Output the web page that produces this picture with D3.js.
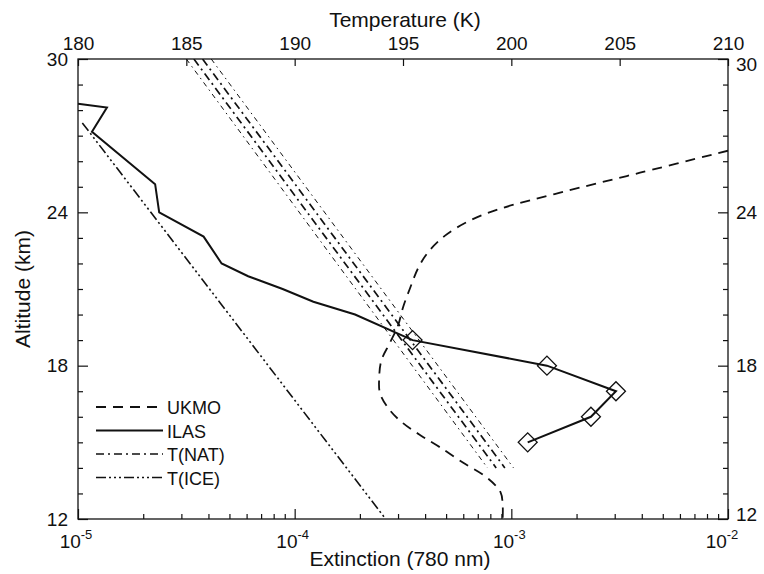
<!DOCTYPE html>
<html>
<head>
<meta charset="utf-8">
<script src="https://cdn.jsdelivr.net/npm/d3@7"></script>
<style>
  body { margin: 0; background: #fff; }
  svg { display: block; }
  text { font-family: "Liberation Sans", Arial, Helvetica, sans-serif; fill: #111; }
</style>
</head>
<body>
<svg id="chart" width="764" height="574"></svg>
<script>
// ILAS aerosol extinction profile (altitude km, extinction at 780 nm)
const ilasAlt = [28.25, 28.1, 27.15, 25.1, 24.0, 23.05, 22.0, 21.5, 21.0, 20.5, 20.0, 19.0, 18.0, 17.0, 16.0, 15.0];
const ilasExt = [1.0e-5, 1.36e-5, 1.16e-5, 2.27e-5, 2.37e-5, 3.8e-5, 4.6e-5, 6.1e-5, 8.8e-5, 1.22e-4, 1.9e-4, 3.5e-4, 1.46e-3, 3.04e-3, 2.33e-3, 1.19e-3];
// altitudes with symbol markers on the ILAS profile
const ilasMarkerAlt = [19, 18, 17, 16, 15];

// UKMO temperature profile (altitude km, temperature K)
const ukmoAlt = [26.41, 25.55, 24.77, 24.14, 23.68, 23.09, 22.43, 21.8, 21.02, 20.28, 19.57, 18.9, 18.2, 17.5, 16.92, 16.25, 15.75, 15.28, 14.81, 14.19, 13.6, 13.05, 12.55, 12.0];
const ukmoT   = [210.0, 205.94, 202.25, 199.48, 198.09, 196.94, 196.15, 195.69, 195.32, 195.0, 194.77, 194.4, 194.0, 193.9, 193.94, 194.4, 195.0, 195.8, 196.7, 197.8, 198.9, 199.5, 199.6, 199.6];

// NAT existence temperature family: end points (altitude km, temperature K)
const natAltRange = [30, 14];
const natTTop = [185.0, 185.35, 185.75, 186.15];
const natTBottom = [198.9, 199.3, 199.7, 200.1];
const natWidths = [1.0, 1.7, 1.7, 1.0];

// Ice frost point line
const iceAlt = [27.5, 12.0];
const iceT = [180.2, 194.2];

// Axis ticks
const altMajor = [12, 18, 24, 30];
const tempTicks = [180, 185, 190, 195, 200, 205, 210];
const extDecades = [-5, -4, -3, -2];

const legendItems = ["UKMO", "ILAS", "T(NAT)", "T(ICE)"];

const padL = 78, padR = 728, padT = 59, padB = 519;

const svg = d3.select("#chart");

const y = d3.scaleLinear().domain([12, 30]).range([padB, padT]);
const xExt = d3.scaleLog().domain([1e-5, 1e-2]).range([padL, padR]);
const xT = d3.scaleLinear().domain([180, 210]).range([padL, padR]);

const clipId = "plotclip";
svg.append("defs").append("clipPath").attr("id", clipId)
  .append("rect").attr("x", padL).attr("y", padT).attr("width", padR - padL).attr("height", padB - padT);

const plot = svg.append("g").attr("clip-path", `url(#${clipId})`);

// NAT lines
natTTop.forEach((t0, i) => {
  const pts = [[t0, natAltRange[0]], [natTBottom[i], natAltRange[1]]];
  plot.append("path")
    .attr("d", d3.line().x(d => xT(d[0])).y(d => y(d[1]))(pts))
    .attr("fill", "none").attr("stroke", "#111")
    .attr("stroke-width", natWidths[i])
    .attr("stroke-dasharray", i === 0 || i === 3 ? "5,4,1.5,4" : "8,4,2,4");
});

// ICE line
plot.append("path")
  .attr("d", d3.line().x(d => xT(d[0])).y(d => y(d[1]))(iceT.map((t, i) => [t, iceAlt[i]])))
  .attr("fill", "none").attr("stroke", "#111").attr("stroke-width", 1.6)
  .attr("stroke-dasharray", "10,3,2,3,2,3,2,3");

// UKMO temperature
plot.append("path")
  .attr("d", d3.line().curve(d3.curveCatmullRom).x(d => xT(d[0])).y(d => y(d[1]))(ukmoT.map((t, i) => [t, ukmoAlt[i]])))
  .attr("fill", "none").attr("stroke", "#111").attr("stroke-width", 1.8)
  .attr("stroke-dasharray", "10,7");

// ILAS extinction
const ilasPts = ilasExt.map((e, i) => [e, ilasAlt[i]]);
plot.append("path")
  .attr("d", d3.line().x(d => xExt(d[0])).y(d => y(d[1]))(ilasPts))
  .attr("fill", "none").attr("stroke", "#111").attr("stroke-width", 2);

const diamond = d3.symbol().type(d3.symbolSquare).size(180);
plot.selectAll(".mk").data(ilasPts.filter(p => ilasMarkerAlt.includes(p[1])))
  .join("path")
  .attr("transform", d => `translate(${xExt(d[0])},${y(d[1])}) rotate(45)`)
  .attr("d", diamond)
  .attr("fill", "none").attr("stroke", "#111").attr("stroke-width", 1.3);

// Frame
svg.append("rect").attr("x", padL).attr("y", padT).attr("width", padR - padL).attr("height", padB - padT)
  .attr("fill", "none").attr("stroke", "#111").attr("stroke-width", 1.3);

function styleAxis(g) {
  g.select(".domain").remove();
  g.selectAll("line").attr("stroke", "#111").attr("stroke-width", 1.2);
  g.selectAll("text").attr("font-size", 19).attr("fill", "#111")
    .attr("font-family", "'Liberation Sans', Arial, sans-serif");
}

const altMinor = d3.range(12, 31).filter(v => !altMajor.includes(v));

// Left axis
svg.append("g").attr("transform", `translate(${padL},0)`)
  .call(d3.axisLeft(y).tickValues(altMinor).tickSize(-5).tickFormat(""))
  .call(styleAxis);
svg.append("g").attr("transform", `translate(${padL},0)`)
  .call(d3.axisLeft(y).tickValues(altMajor).tickSize(-10).tickPadding(10).tickFormat(d3.format("d")))
  .call(styleAxis);

// Right axis
svg.append("g").attr("transform", `translate(${padR},0)`)
  .call(d3.axisRight(y).tickValues(altMinor).tickSize(-5).tickFormat(""))
  .call(styleAxis);
svg.append("g").attr("transform", `translate(${padR},0)`)
  .call(d3.axisRight(y).tickValues(altMajor).tickSize(-10).tickPadding(8).tickFormat(d3.format("d")))
  .call(styleAxis)
  .call(g => g.selectAll("text").attr("dy", d => d === 30 ? "0.62em" : d === 12 ? "0.1em" : "0.32em"));

// Top temperature axis
svg.append("g").attr("transform", `translate(0,${padT})`)
  .call(d3.axisTop(xT).tickValues(tempTicks).tickSize(-7).tickPadding(9).tickFormat(d3.format("d")))
  .call(styleAxis);

// Bottom log extinction axis
const extMinor = [];
extDecades.slice(0, -1).forEach(p => { for (let m = 2; m <= 9; m++) extMinor.push(m * Math.pow(10, p)); });
const extMajor = extDecades.map(p => Math.pow(10, p));
svg.append("g").attr("transform", `translate(0,${padB})`)
  .call(d3.axisBottom(xExt).tickValues(extMinor).tickSize(-5).tickFormat(""))
  .call(styleAxis);
svg.append("g").attr("transform", `translate(0,${padB})`)
  .call(d3.axisBottom(xExt).tickValues(extMajor).tickSize(-10).tickFormat(""))
  .call(styleAxis);

// Power-of-ten labels
extDecades.forEach(p => {
  const t = svg.append("text")
    .attr("x", xExt(Math.pow(10, p)) - (p === -2 ? 6 : 2))
    .attr("y", padB + 29)
    .attr("text-anchor", "middle")
    .attr("font-size", 19);
  t.append("tspan").text("10");
  t.append("tspan").attr("font-size", 13).attr("dy", -9).text("-" + Math.abs(p));
});

// Axis titles
svg.append("text").attr("x", 400).attr("y", 566).attr("text-anchor", "middle")
  .attr("font-size", 21).text("Extinction (780 nm)");
svg.append("text").attr("x", 405).attr("y", 27).attr("text-anchor", "middle")
  .attr("font-size", 21).text("Temperature (K)");
svg.append("text").attr("transform", `translate(30,${(padT + padB) / 2}) rotate(-90)`)
  .attr("text-anchor", "middle").attr("font-size", 21).text("Altitude (km)");

// Legend
const legendStyles = [
  { dash: "10,7", w: 1.8 },
  { dash: null, w: 2 },
  { dash: "8,4,2,4", w: 1.6 },
  { dash: "10,3,2,3,2,3,2,3", w: 1.6 }
];
legendItems.forEach((name, i) => {
  const ly = 407 + i * 23.5;
  const ln = svg.append("line").attr("x1", 96).attr("x2", 163).attr("y1", ly).attr("y2", ly)
    .attr("stroke", "#111").attr("stroke-width", legendStyles[i].w);
  if (legendStyles[i].dash) ln.attr("stroke-dasharray", legendStyles[i].dash);
  svg.append("text").attr("x", 167).attr("y", ly + 7).attr("font-size", 18).text(name);
});
</script>
</body>
</html>
